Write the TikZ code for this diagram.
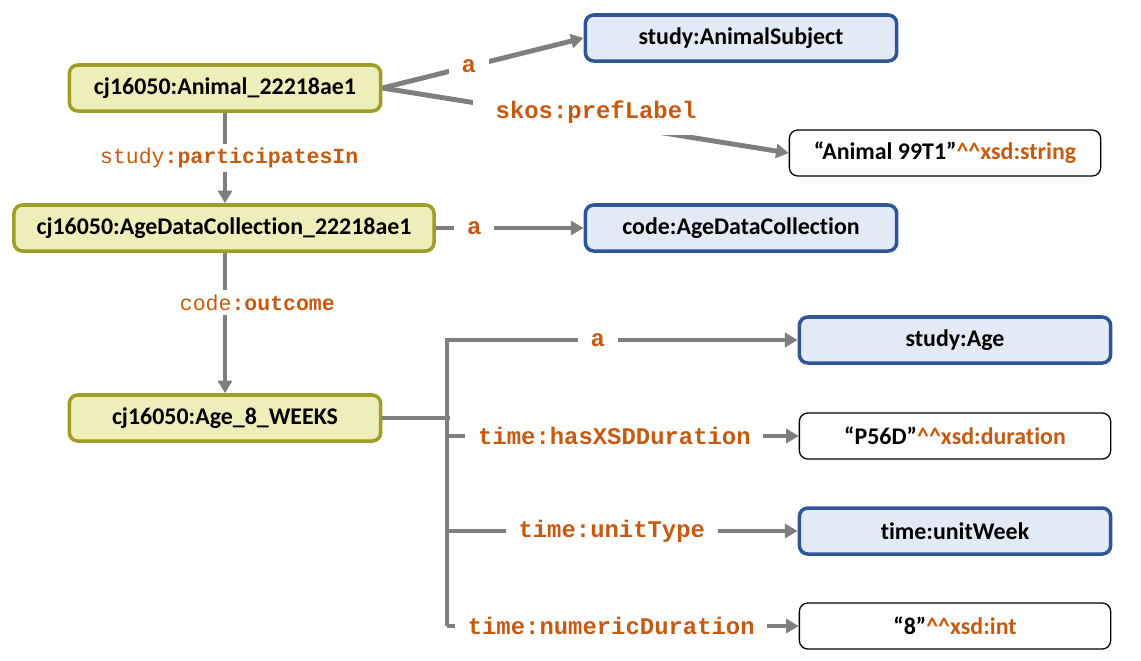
\documentclass[tikz,border=0pt]{standalone}
\usepackage{fontspec}
\setmainfont{Carlito}[Ligatures=NoCommon]
\newfontfamily\codefont{Liberation Mono}
\usetikzlibrary{arrows.meta}
\definecolor{instline}{RGB}{158,158,38}\definecolor{instfill}{RGB}{238,238,186}
\definecolor{clsline}{RGB}{47,85,151}\definecolor{clsfill}{RGB}{226,234,246}
\definecolor{propcol}{RGB}{197,90,17}\definecolor{relgray}{RGB}{127,127,127}
\newcommand\xsd[1]{\textcolor{propcol}{\textasciicircum\textasciicircum xsd:#1}}
\begin{document}
\begin{tikzpicture}[x=.025cm,y=-.025cm,font=\bfseries\fontsize{17}{20}\selectfont,
box/.style={rounded corners=6pt,minimum width=7.78cm,minimum height=1.15cm,inner sep=2pt},
inst/.style={box,draw=instline,fill=instfill,line width=2.5pt},
cls/.style={box,draw=clsline,fill=clsfill,line width=2.5pt},
lit/.style={box,draw,line width=.9pt},
rel/.style={draw=relgray,line width=3.5pt,-{Triangle[length=9pt,width=10pt]}},
prop/.style={text=propcol,fill=white,inner xsep=9pt,inner ysep=3pt,font=\codefont\bfseries\fontsize{17}{19}\selectfont},
subprop/.style={prop,font=\codefont\bfseries\fontsize{15.3}{17}\selectfont}]
\useasboundingbox(0,0)rectangle(1141,660);
\node[inst](animal)at(225,88){cj16050:Animal\_22218ae1};\node[inst,minimum width=10.5cm](adc)at(224,228){cj16050:AgeDataCollection\_22218ae1};\node[inst](age)at(225,418){cj16050:Age\_8\_WEEKS};
\node[cls](subj)at(741,38){study:AnimalSubject};\node[lit](name)at(945,153){“Animal 99T1”\xsd{string}};\node[cls](adcc)at(741,228){code:AgeDataCollection};
\node[cls](agec)at(955,340){study:Age};\node[lit](dur)at(955,436){“P56D”\xsd{duration}};\node[cls](week)at(955,531){time:unitWeek};\node[lit](num)at(955,626){“8”\xsd{int}};
\coordinate(bus)at(447,418);
\draw[rel](animal.east)--node[prop,pos=.43]{a}(subj.west);
\draw[rel](animal.east)--node[prop,pos=.526,yshift=7pt,inner xsep=16pt,inner ysep=8pt]{skos:prefLabel}(name.west);
\draw[rel](animal.south)--node[subprop,xshift=3pt]{{\mdseries study}:participatesIn}(animal.south|-adc.north);
\draw[rel](adc.east)--node[prop,pos=.26]{a}(adcc.west);
\draw[rel](age.north|-adc.south)--node[subprop,pos=.355,xshift=23pt,inner xsep=2pt]{{\mdseries code}:outcome}(age.north);
% right hand branches of the age node
\draw[relgray,line width=3.5pt](age.east)--([xshift=2pt]bus);
\draw[rel](num.west-|bus)--(agec.west-|bus)--node[prop,pos=.43]{a}(agec.west);
\draw[rel](dur.west-|bus)--node[prop,pos=.476]{time:hasXSDDuration}(dur.west);
\draw[rel](week.west-|bus)--node[prop,pos=.47]{time:unitType}(week.west);
\draw[rel](num.west-|bus)--node[prop,pos=.467]{time:numericDuration}(num.west);
\end{tikzpicture}
\end{document}
